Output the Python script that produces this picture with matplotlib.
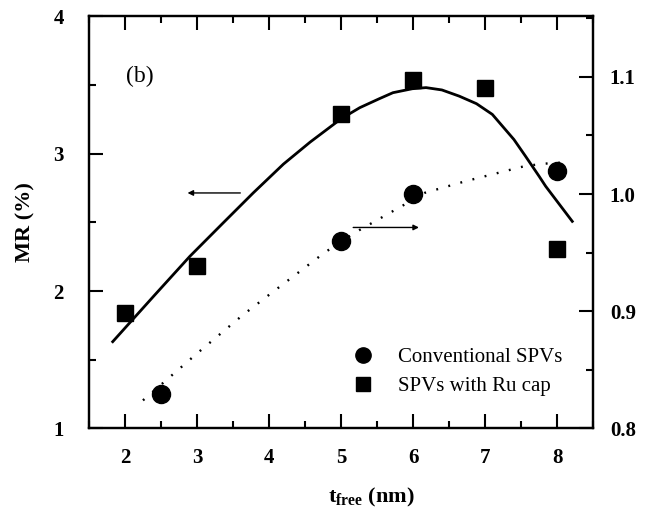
import numpy as np
import matplotlib
matplotlib.use("Agg")
import matplotlib.pyplot as plt
from matplotlib.lines import Line2D
from matplotlib.ticker import MultipleLocator

plt.rcParams["font.family"] = ["Liberation Serif", "DejaVu Serif"]
plt.rcParams["mathtext.fontset"] = "custom"
plt.rcParams["mathtext.rm"] = "Liberation Serif"
plt.rcParams["mathtext.bf"] = "Liberation Serif:bold"

# MR of SPVs with Ru cap (left axis)
t_ru = [2, 3, 5, 6, 7, 8]
mr_ru = [1.84, 2.18, 3.29, 3.54, 3.48, 2.31]

# conventional SPVs (right axis)
t_conv = [2.5, 5, 6, 8]
mr_conv = [0.829, 0.96, 1.0, 1.02]

# guide curve through the Ru-cap data
fit_ru_t = [1.83, 2.41, 2.90, 3.35, 3.78, 4.20, 4.57, 5.0, 5.26, 5.53, 5.72, 5.99, 6.18,
            6.40, 6.64, 6.88, 7.10, 7.40, 7.56, 7.75, 7.84, 8.21]
fit_ru_mr = [1.632, 1.970, 2.253, 2.490, 2.715, 2.925, 3.085, 3.255, 3.336, 3.401, 3.445, 3.474, 3.482,
             3.465, 3.420, 3.365, 3.287, 3.104, 2.983, 2.836, 2.764, 2.508]

# guide curve through the conventional data
fit_conv_t = [2.25, 3.0, 3.64, 4.0, 4.77, 5.19, 5.88, 6.16, 6.73, 7.56, 7.84, 8.12]
fit_conv_mr = [0.824, 0.864, 0.897, 0.914, 0.950, 0.967, 0.991, 1.001, 1.011, 1.024, 1.026, 1.027]

fig = plt.figure(figsize=(6.54, 5.15), dpi=100)
ax = fig.add_axes([0.136, 0.168, 0.771, 0.800])
ax2 = ax.twinx()

ax.plot(fit_ru_t, fit_ru_mr, color="black", lw=2.0, zorder=2, solid_joinstyle="round")
ax.plot(t_ru, mr_ru, "s", color="black", ms=11, zorder=3)
ax2.plot(fit_conv_t, fit_conv_mr, color="black", lw=1.7, ls=(0, (0.8, 4.5)), zorder=2)
ax2.plot(t_conv, mr_conv, "o", color="black", ms=13, zorder=3)

ax.set_xlim(1.5, 8.5)
ax.set_ylim(1, 4)
ax2.set_ylim(0.8, 1.1515)

ax.xaxis.set_major_locator(MultipleLocator(1))
ax.xaxis.set_minor_locator(MultipleLocator(0.5))
ax.yaxis.set_major_locator(MultipleLocator(1))
ax.yaxis.set_minor_locator(MultipleLocator(0.5))
ax2.yaxis.set_major_locator(MultipleLocator(0.1))
ax2.yaxis.set_minor_locator(MultipleLocator(0.05))

for a in (ax, ax2):
    for s in a.spines.values():
        s.set_linewidth(1.6)

ax.tick_params(axis="x", which="both", direction="in", top=True, width=1.5)
ax.tick_params(axis="x", which="major", length=10, pad=14, labelsize=15)
ax.tick_params(axis="x", which="minor", length=5)
ax.tick_params(axis="y", which="both", direction="in", width=1.5)
ax.tick_params(axis="y", which="major", length=10, pad=18, labelsize=15)
ax.tick_params(axis="y", which="minor", length=5)
ax2.tick_params(axis="y", which="both", direction="in", width=1.5)
ax2.tick_params(axis="y", which="major", length=10, pad=12, labelsize=15)
ax2.tick_params(axis="y", which="minor", length=5)

for lab in ax.get_xticklabels() + ax.get_yticklabels() + ax2.get_yticklabels():
    lab.set_fontweight("bold")

ax.set_ylabel("MR (%)", fontsize=16, fontweight="bold")
ax.yaxis.set_label_coords(-0.106, 0.5)
ax.set_xlabel(r"$\mathbf{t}_{\mathbf{free}}$ (nm)", fontsize=16, fontweight="bold")
ax.xaxis.set_label_coords(0.56, -0.14)

ax.text(0.073, 0.855, "(b)", transform=ax.transAxes, fontsize=17, ha="left", va="center")

# arrows pointing to the axis each curve belongs to
ax.annotate("", xy=(2.83, 2.715), xytext=(3.64, 2.715),
            arrowprops=dict(arrowstyle="-|>", color="black", lw=1.0, mutation_scale=8))
ax2.annotate("", xy=(6.12, 0.9715), xytext=(5.13, 0.9715),
             arrowprops=dict(arrowstyle="-|>", color="black", lw=1.0, mutation_scale=8))

handles = [Line2D([], [], marker="o", ls="none", color="black", ms=11),
           Line2D([], [], marker="s", ls="none", color="black", ms=10)]
ax2.legend(handles, ["Conventional SPVs", "SPVs with Ru cap"], loc="center left",
           bbox_to_anchor=(0.523, 0.1375), frameon=False, fontsize=15,
           handlelength=1.0, handletextpad=1.2, labelspacing=0.45,
           borderpad=0, borderaxespad=0)

fig.savefig("out.png", dpi=100)
